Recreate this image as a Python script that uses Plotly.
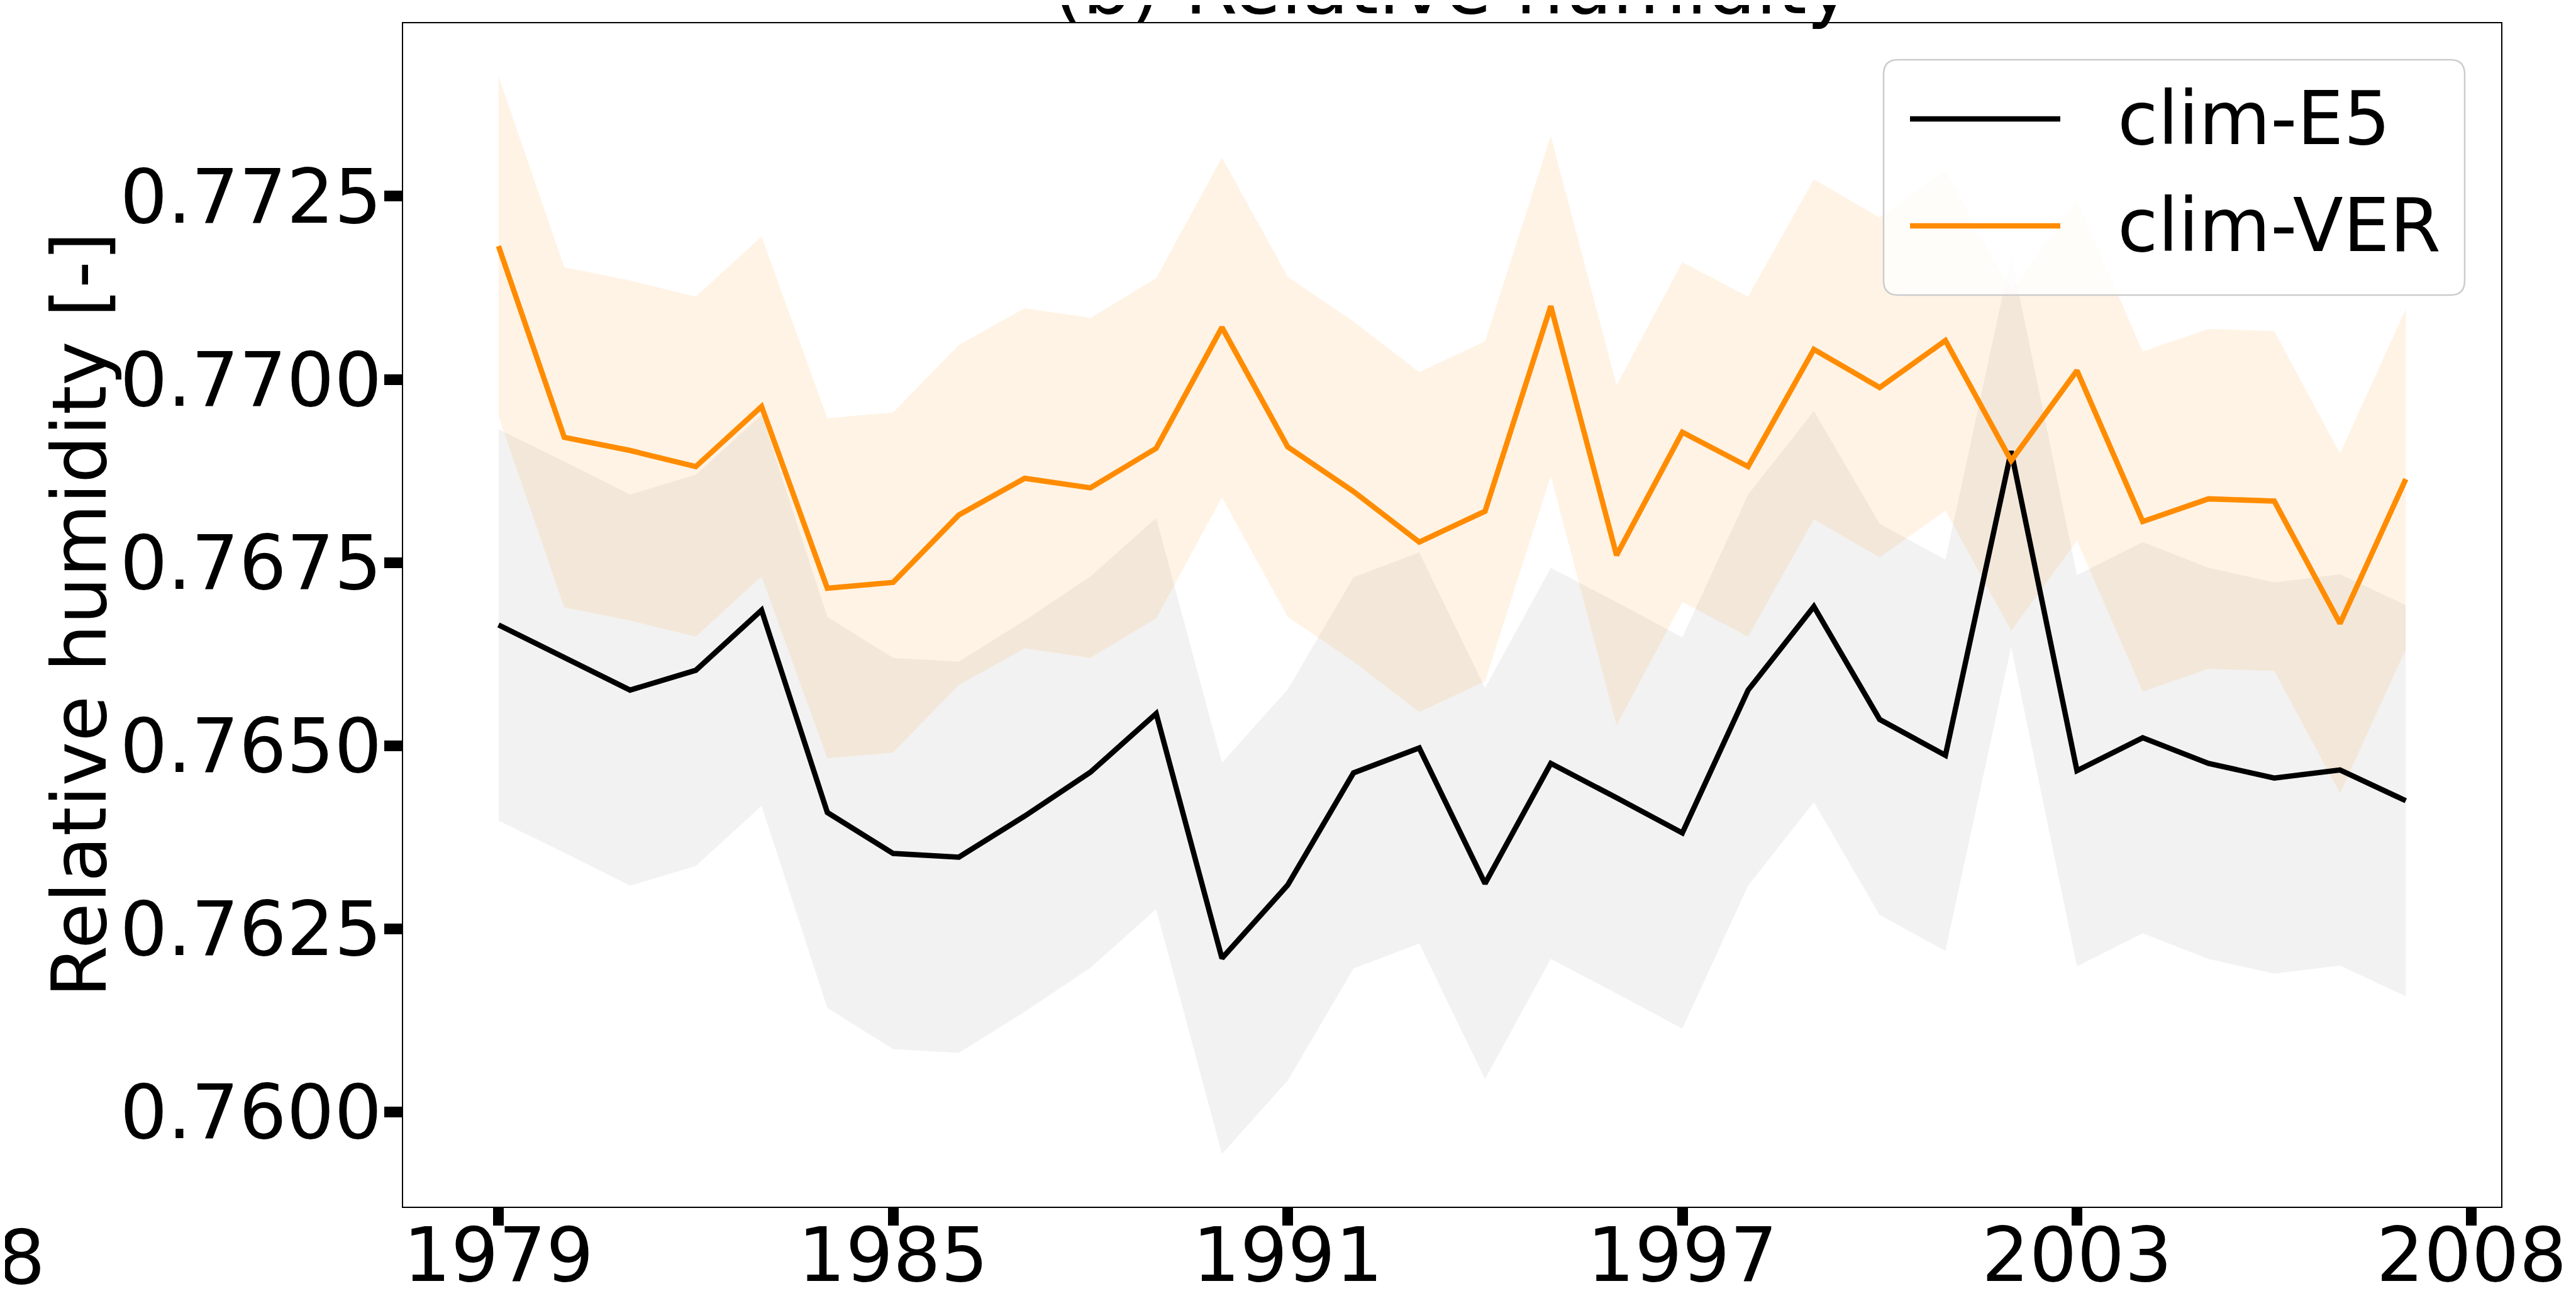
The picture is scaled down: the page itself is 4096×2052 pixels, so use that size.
import plotly.graph_objects as go

# ---------------- data ----------------
years = list(range(1979, 2009))
e5_mean = [0.76665, 0.76621, 0.76576, 0.76603, 0.76685, 0.76409, 0.76353, 0.76348,
           0.76404, 0.76464, 0.76544, 0.76210, 0.76310, 0.76463, 0.76497, 0.76312,
           0.76476, 0.76429, 0.76381, 0.76576, 0.76690, 0.76536, 0.76487, 0.76902,
           0.76466, 0.76511, 0.76476, 0.76456, 0.76467, 0.76425]
ver_mean = [0.77182, 0.76921, 0.76903, 0.76881, 0.76963, 0.76715, 0.76723, 0.76815,
            0.76865, 0.76852, 0.76906, 0.77071, 0.76908, 0.76847, 0.76778, 0.76820,
            0.77100, 0.76760, 0.76928, 0.76881, 0.77041, 0.76989, 0.77053, 0.76889,
            0.77012, 0.76806, 0.76837, 0.76834, 0.76667, 0.76864]
e5_spread = 0.00267
ver_spread = 0.00232

x_tickvals = [1979, 1985, 1991, 1997, 2003, 2009]
x_ticktext = ["1979", "1985", "1991", "1997", "2003", "2008"]
y_tickvals = [0.7600, 0.7625, 0.7650, 0.7675, 0.7700, 0.7725]
series_names = ["clim-E5", "clim-VER"]
title_text = "(b) Relative humidity"
ylabel_text = "Relative humidity [-]"

# ---------------- layout constants ----------------
W, H = 4096, 2052
ML, MR, MT, MB = 633, 127, 29, 142
PW, PH = W - ML - MR, H - MT - MB
FONT = "DejaVu Sans"
FS = 119
LW = 8.5


def px(xp):
    return (xp - ML) / PW


def py(yp):
    return (H - MB - yp) / PH


e5_lo = [m - e5_spread for m in e5_mean]
e5_hi = [m + e5_spread for m in e5_mean]
ver_lo = [m - ver_spread for m in ver_mean]
ver_hi = [m + ver_spread for m in ver_mean]

fig = go.Figure()
# bands
fig.add_trace(go.Scatter(x=years, y=e5_lo, mode="lines", line=dict(width=0),
                         showlegend=False, hoverinfo="skip"))
fig.add_trace(go.Scatter(x=years, y=e5_hi, mode="lines", line=dict(width=0),
                         fill="tonexty", fillcolor="rgba(0,0,0,0.05)",
                         showlegend=False, hoverinfo="skip"))
fig.add_trace(go.Scatter(x=years, y=ver_lo, mode="lines", line=dict(width=0),
                         showlegend=False, hoverinfo="skip"))
fig.add_trace(go.Scatter(x=years, y=ver_hi, mode="lines", line=dict(width=0),
                         fill="tonexty", fillcolor="rgba(255,140,0,0.1)",
                         showlegend=False, hoverinfo="skip"))
# mean lines
fig.add_trace(go.Scatter(x=years, y=e5_mean, mode="lines", name=series_names[0],
                         line=dict(color="black", width=LW)))
fig.add_trace(go.Scatter(x=years, y=ver_mean, mode="lines", name=series_names[1],
                         line=dict(color="#FF8C00", width=LW)))

axis_common = dict(showline=True, linecolor="black", linewidth=2, mirror=True,
                   showgrid=False, zeroline=False, ticks="outside", ticklen=28,
                   tickwidth=17, tickcolor="black", automargin=False,
                   tickfont=dict(family=FONT, size=FS, color="black"))

fig.update_layout(
    width=W, height=H,
    margin=dict(l=ML, r=MR, t=MT, b=MB, pad=0, autoexpand=False),
    paper_bgcolor="white", plot_bgcolor="white",
    showlegend=False,
    xaxis=dict(range=[1977.55, 2009.45], tickvals=x_tickvals, ticktext=x_ticktext,
               ticklabelstandoff=-55, **axis_common),
    yaxis=dict(range=[0.75871, 0.77486], tickvals=y_tickvals, tickformat=".4f",
               ticklabelstandoff=-20, **axis_common),
)

annotations = []
shapes = []

# y-axis title
annotations.append(dict(text=ylabel_text, xref="paper", yref="paper", x=px(118), y=0.5,
                        xanchor="center", yanchor="middle", textangle=-90, showarrow=False,
                        font=dict(family=FONT, size=FS, color="black")))
# cut-off title at the top
annotations.append(dict(text=title_text, xref="paper", yref="paper", x=0.5, y=py(-29),
                        xanchor="center", yanchor="middle", showarrow=False,
                        font=dict(family=FONT, size=FS + 2, color="black")))
# cut-off tick label fragment of neighbouring panel
annotations.append(dict(text="2008", xref="paper", yref="paper", x=px(66), y=py(1991),
                        xanchor="right", yanchor="middle", showarrow=False,
                        font=dict(family=FONT, size=FS, color="black")))

# legend box (rounded)
x0, x1, y0, y1 = px(2987), px(3911), py(87), py(461)
rx, ry = 23 / PW, 23 / PH
path = (f"M {x0+rx},{y0} L {x1-rx},{y0} Q {x1},{y0} {x1},{y0-ry} "
        f"L {x1},{y1+ry} Q {x1},{y1} {x1-rx},{y1} L {x0+rx},{y1} "
        f"Q {x0},{y1} {x0},{y1+ry} L {x0},{y0-ry} Q {x0},{y0} {x0+rx},{y0} Z")
shapes.append(dict(type="path", path=path, xref="paper", yref="paper",
                   fillcolor="rgba(255,255,255,0.8)", line=dict(color="#cccccc", width=2.5),
                   layer="above"))
legend_colors = ["black", "#FF8C00"]
for i, (nm, col) in enumerate(zip(series_names, legend_colors)):
    ly = [181, 351][i]
    shapes.append(dict(type="line", xref="paper", yref="paper", x0=px(3029), x1=px(3268),
                       y0=py(ly), y1=py(ly), line=dict(color=col, width=LW), layer="above"))
    annotations.append(dict(text=nm, xref="paper", yref="paper", x=px(3357), y=py(ly),
                            xanchor="left", yanchor="middle", showarrow=False,
                            font=dict(family=FONT, size=FS - 2, color="black")))

fig.update_layout(annotations=annotations, shapes=shapes)
fig.write_html("out.html")
